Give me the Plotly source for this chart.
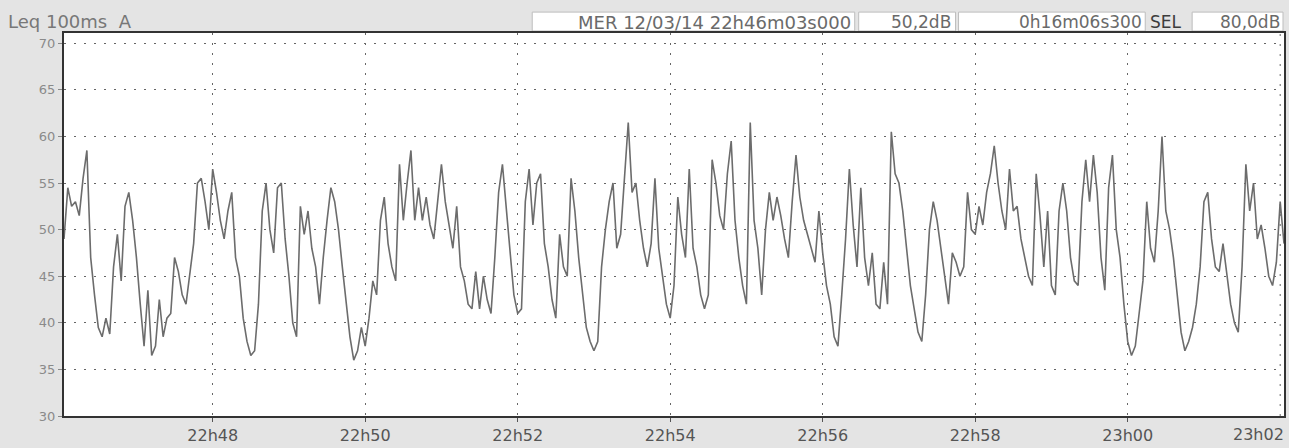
import pandas as pd
import plotly.graph_objects as go

# ---------------- data ----------------
START = "2014-03-12 22:46:03"
END = "2014-03-12 23:02:03"
SAMPLE_STEP_S = 3  # seconds between samples

leq_db = [
    49, 54.5, 52.5, 53, 51.5, 55.5, 58.5, 47, 43, 39.5,
    38.5, 40.5, 38.8, 46, 49.5, 44.5, 52.5, 54, 51, 47,
    42, 37.5, 43.5, 36.5, 37.5, 42.5, 38.5, 40.5, 41, 47,
    45.5, 43, 42, 45, 48.5, 55, 55.5, 53, 50, 56.5,
    54, 51, 49, 52, 54, 47, 45, 40.5, 38, 36.5,
    37, 42, 52, 55, 50, 47.5, 54.5, 55, 49, 45,
    40, 38.5, 52.5, 49.5, 52, 48, 46, 42, 47, 51,
    54.5, 53, 50, 46, 42, 38.5, 36, 37, 39.5, 37.5,
    40.5, 44.5, 43, 51, 53.5, 48.5, 46, 44.5, 57, 51,
    55, 58.5, 51, 54.5, 51, 53.5, 50.5, 49, 53, 57,
    53, 50.5, 48, 52.5, 46, 44.5, 42, 41.5, 45.5, 41.5,
    45, 42.5, 41, 47, 54, 57, 52.5, 48, 43, 41,
    41.5, 53, 56.5, 50.5, 55, 56, 48.5, 46, 42.5, 40.5,
    49.5, 46, 45, 55.5, 52, 47, 43, 39.5, 38, 37,
    38, 46, 50, 53, 55, 48, 49.5, 56, 61.5, 54,
    55, 51, 48, 46, 48.5, 55.5, 48, 45, 42, 40.5,
    44, 53.5, 49.5, 47, 56.5, 48, 46, 43, 41.5, 43,
    57.5, 55, 51.5, 50, 56, 59.5, 51, 47, 44, 42,
    61.5, 51, 48, 43, 50, 54, 51, 53.5, 51.5, 49,
    47, 53, 58, 53.5, 51, 49.5, 48, 46.5, 52, 47.5,
    44, 42, 38.5, 37.5, 43, 49, 56.5, 50.5, 46, 54.5,
    47, 44, 47.5, 42, 41.5, 46.5, 42, 60.5, 56, 55,
    52, 48, 44, 41.5, 39, 38, 43, 50, 53, 51,
    48, 44.5, 42, 47.5, 46.5, 45, 46, 54, 50, 49.5,
    52.5, 50.5, 54, 56, 59, 55, 52, 50, 56.5, 52,
    52.5, 49, 47, 45, 44, 56, 51.5, 46, 52, 44,
    43, 52, 55, 52, 47, 44.5, 44, 53, 57.5, 53,
    58, 54, 47, 43.5, 54.5, 58, 50, 47, 42, 38,
    36.5, 37.5, 41, 44.5, 53, 48, 46.5, 52, 60, 52,
    50, 47, 43, 39, 37, 38, 39.5, 42, 46, 53,
    54, 49, 46, 45.5, 48.5, 45, 42, 40, 39, 46,
    57, 52, 55, 49, 50.5, 48, 45, 44, 46.5, 53,
    48.5,
]

x_tick_times = ["22:48", "22:50", "22:52", "22:54", "22:56", "22:58", "23:00", "23:02"]
x_tick_labels = ["22h48", "22h50", "22h52", "22h54", "22h56", "22h58", "23h00", "23h02"]
y_tick_vals = [30, 35, 40, 45, 50, 55, 60, 65, 70]

header_title = "Leq 100ms  A"
header_cursor = "MER 12/03/14 22h46m03s000"
header_level = "50,2dB"
header_duration = "0h16m06s300"
header_sel_label = "SEL"
header_sel_value = "80,0dB"

# ---------------- build ----------------
times = pd.date_range(START, periods=len(leq_db), freq=f"{SAMPLE_STEP_S}s")
tickvals = [pd.Timestamp(f"2014-03-12 {t}:00") for t in x_tick_times]

W, H = 1289, 448
ML, MR, MT, MB = 64, 3, 33, 30
PW, PH = W - ML - MR, H - MT - MB


def px(x):
    return (x - ML) / PW


def py(y):
    return (H - MB - y) / PH


fig = go.Figure()
fig.add_trace(go.Scatter(
    x=times, y=leq_db, mode="lines",
    line=dict(color="#6c6c6c", width=1.6),
    hoverinfo="x+y", showlegend=False,
))

FONT = "DejaVu Sans, Verdana, sans-serif"

fig.update_layout(
    width=W, height=H,
    margin=dict(l=ML, r=MR, t=MT, b=MB, pad=0),
    paper_bgcolor="#e4e4e4",
    plot_bgcolor="#ffffff",
    font=dict(family=FONT, size=12, color="#666666"),
    xaxis=dict(
        range=[pd.Timestamp(START), pd.Timestamp(END)],
        tickvals=tickvals[:-1], ticktext=x_tick_labels[:-1],
        tickfont=dict(size=16, color="#555555"),
        ticks="outside", ticklen=4, tickcolor="#555555",
        showgrid=True, gridcolor="#666666", gridwidth=1, griddash="2px,8px",
        showline=True, linecolor="#333333", linewidth=1.5, mirror=True,
        zeroline=False, fixedrange=True,
    ),
    yaxis=dict(
        range=[30, 71.1],
        tickvals=y_tick_vals,
        tickfont=dict(size=13, color="#8a8a8a"),
        ticks="outside", ticklen=4, tickcolor="#888888",
        showgrid=True, gridcolor="#666666", gridwidth=1, griddash="2px,8px",
        showline=True, linecolor="#333333", linewidth=2, mirror=True,
        zeroline=False, fixedrange=True,
    ),
)

# last x tick (at the right edge): gridline + label pulled inside like the original
fig.add_shape(type="line", xref="x", yref="paper", x0=tickvals[-1], x1=tickvals[-1],
              y0=0, y1=1, line=dict(color="#666666", width=1, dash="2px,8px"))
fig.add_annotation(text=x_tick_labels[-1], xref="paper", yref="paper",
                   x=px(1288), y=py(437), xanchor="right", yanchor="middle",
                   showarrow=False, font=dict(family=FONT, size=16, color="#555555"))

# header boxes (white fields)
boxes = [(533, 856), (860, 957), (960, 1147), (1194, 1285)]
for x0, x1 in boxes:
    fig.add_shape(type="rect", xref="paper", yref="paper",
                  x0=px(x0), x1=px(x1), y0=py(31), y1=py(12),
                  fillcolor="#ffffff", line=dict(color="#bdbdbd", width=1),
                  layer="below")


def ann(text, x, anchor, color="#666666", size=17, y=22):
    fig.add_annotation(text=text, xref="paper", yref="paper",
                       x=px(x), y=py(y), xanchor=anchor, yanchor="middle",
                       showarrow=False, font=dict(family=FONT, size=size, color=color))


ann(header_title, 6, "left", "#777777", 18, 21)
ann(header_cursor, 854, "right", "#6a6a6a", 18)
ann(header_level, 954, "right", "#6a6a6a", 17)
ann(header_duration, 1146, "right", "#6a6a6a", 17)
ann(header_sel_label, 1150, "left", "#3c3c3c", 17)
ann(header_sel_value, 1284, "right", "#6a6a6a", 17)

fig.write_html("out.html")
